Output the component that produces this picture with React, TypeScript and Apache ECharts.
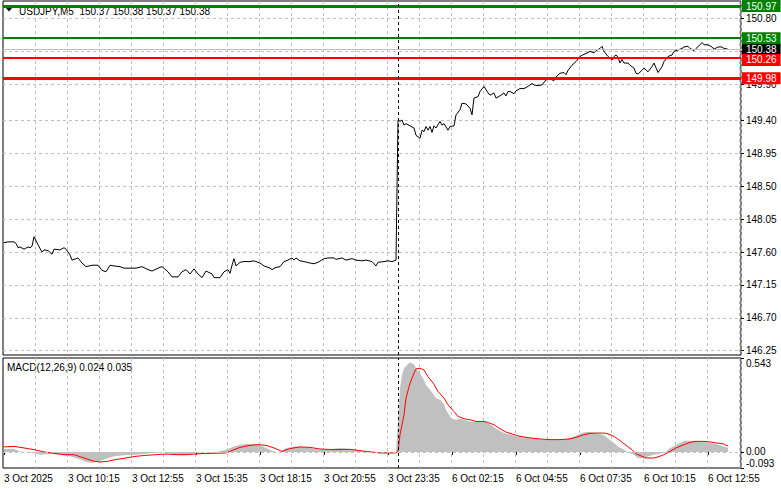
import React, { useEffect, useRef } from 'react';
import * as echarts from 'echarts';

const FONT = "'Liberation Sans', Arial, sans-serif";

// ---- data ----
const BAR_COUNT = 369; // bars visible across the chart width (M5)
const CATEGORIES = Array.from({ length: BAR_COUNT }, (_, i) => String(i));
const TICK_LABELS = [
  '3 Oct 2025', '3 Oct 10:15', '3 Oct 12:55', '3 Oct 15:35', '3 Oct 18:15', '3 Oct 20:55',
  '3 Oct 23:35', '6 Oct 02:15', '6 Oct 04:55', '6 Oct 07:35', '6 Oct 10:15', '6 Oct 12:55',
];
const TICK_STEP = 32;
const GRID_STEP = 16;
const SEPARATOR_BAR = '197'; // 6 Oct 00:00

const PRICE_GRID = [150.8, 150.35, 149.9, 149.4, 148.95, 148.5, 148.05, 147.6, 147.15, 146.7, 146.25];
const PRICE_LABELS = [150.8, 149.9, 149.4, 148.95, 148.5, 148.05, 147.6, 147.15, 146.7, 146.25];
const PRICE_MIN = 146.19;
const PRICE_MAX = 151.04;

const RESISTANCE_LEVELS = [150.97, 150.53];
const SUPPORT_LEVELS = [150.26, 149.98];
const BID = 150.38;

const TITLE = 'USDJPY,M5  150.37 150.38 150.37 150.38';
const MACD_TITLE = 'MACD(12,26,9) 0.024 0.035';
const MACD_MAX = 0.543;
const MACD_MIN = -0.093;

const PRICE: [number, number][] = [
  [0, 147.73], [2, 147.74], [5, 147.74], [6, 147.72], [7, 147.66], [8, 147.67], [10, 147.64], [12, 147.67],
  [13, 147.66], [14, 147.68], [15, 147.81], [17, 147.70], [19, 147.60], [20, 147.63], [22, 147.62], [24, 147.57],
  [25, 147.64], [28, 147.63], [30, 147.66], [31, 147.64], [33, 147.56], [34, 147.49], [37, 147.52], [39, 147.45],
  [41, 147.40], [44, 147.42], [47, 147.42], [49, 147.35], [51, 147.33], [53, 147.42], [55, 147.41], [58, 147.40],
  [60, 147.38], [63, 147.38], [66, 147.38], [69, 147.40], [72, 147.36], [74, 147.34], [77, 147.38], [79, 147.40],
  [82, 147.33], [84, 147.26], [87, 147.26], [89, 147.33], [91, 147.36], [93, 147.30], [95, 147.37], [97, 147.30],
  [99, 147.25], [101, 147.34], [104, 147.30], [105, 147.25], [108, 147.25], [110, 147.33], [112, 147.36], [113, 147.31],
  [114, 147.42], [115, 147.51], [116, 147.41], [118, 147.46], [120, 147.47], [123, 147.47], [125, 147.48], [128, 147.45],
  [130, 147.41], [133, 147.38], [134, 147.36], [136, 147.39], [138, 147.40], [140, 147.47], [142, 147.49], [144, 147.52],
  [145, 147.49], [146, 147.52], [148, 147.48], [150, 147.47], [153, 147.45], [155, 147.44], [157, 147.46], [160, 147.51],
  [162, 147.52], [165, 147.52], [166, 147.50], [169, 147.52], [171, 147.49], [174, 147.51], [176, 147.49], [179, 147.48],
  [181, 147.49], [184, 147.47], [186, 147.41], [187, 147.46], [190, 147.47], [192, 147.48], [194, 147.47], [196, 147.49],
  [197, 149.41], [198, 149.39], [199, 149.41], [200, 149.34], [201, 149.36], [203, 149.33], [205, 149.30], [206, 149.20],
  [208, 149.16], [209, 149.27], [210, 149.25], [211, 149.32], [212, 149.27], [213, 149.32], [214, 149.24], [215, 149.33],
  [216, 149.30], [218, 149.39], [219, 149.34], [220, 149.36], [222, 149.27], [223, 149.32], [225, 149.33], [226, 149.48],
  [228, 149.55], [229, 149.64], [231, 149.63], [233, 149.57], [234, 149.48], [235, 149.71], [237, 149.73], [238, 149.80],
  [240, 149.87], [242, 149.78], [243, 149.75], [245, 149.78], [246, 149.71], [248, 149.74], [250, 149.78], [251, 149.74],
  [252, 149.80], [253, 149.80], [255, 149.77], [256, 149.81], [258, 149.84], [260, 149.84], [262, 149.87], [264, 149.91],
  [265, 149.89], [267, 149.88], [269, 149.89], [271, 149.96], [273, 149.97], [275, 149.95], [276, 150.00], [278, 150.05],
  [280, 150.06], [281, 150.03], [282, 150.09], [284, 150.16], [286, 150.21], [288, 150.28], [290, 150.31], [291, 150.32],
  [293, 150.35], [295, 150.33], [296, 150.36], [298, 150.39], [299, 150.42], [300, 150.35], [302, 150.28], [304, 150.23],
  [305, 150.28], [306, 150.30], [307, 150.27], [308, 150.19], [309, 150.24], [310, 150.19], [312, 150.19], [313, 150.16],
  [315, 150.12], [316, 150.05], [317, 150.04], [319, 150.09], [320, 150.12], [322, 150.07], [324, 150.14], [325, 150.19],
  [327, 150.06], [329, 150.14], [330, 150.21], [332, 150.28], [334, 150.30], [335, 150.35], [337, 150.37], [339, 150.39],
  [340, 150.41], [342, 150.42], [343, 150.39], [345, 150.36], [346, 150.39], [348, 150.44], [349, 150.47], [350, 150.44],
  [352, 150.44], [354, 150.41], [355, 150.38], [357, 150.41], [359, 150.41], [360, 150.39], [362, 150.38],
];

const MACD_MAIN: [number, number][] = [
  [0, 0.017], [5, 0.017], [8, 0.002], [13, -0.002], [18, -0.016], [23, -0.012], [28, -0.016], [33, -0.025],
  [38, -0.044], [41, -0.058], [44, -0.063], [46, -0.058], [50, -0.044], [55, -0.025], [60, -0.02], [65, -0.016],
  [70, -0.012], [75, -0.006], [80, 0.0], [83, -0.008], [86, -0.016], [90, -0.02], [95, -0.008], [100, 0.0],
  [105, -0.004], [111, 0.013], [115, 0.031], [118, 0.042], [121, 0.046], [125, 0.046], [128, 0.038], [131, 0.023],
  [135, 0.002], [138, 0.0], [141, 0.023], [145, 0.031], [148, 0.032], [153, 0.023], [158, 0.013], [163, 0.017],
  [168, 0.023], [173, 0.017], [178, 0.006], [183, 0.0], [188, -0.008], [193, -0.006], [196, -0.004],
  [197, 0.18], [198, 0.368], [199, 0.445], [200, 0.484], [202, 0.507], [203, 0.518], [205, 0.507], [206, 0.484],
  [208, 0.455], [210, 0.416], [211, 0.387], [213, 0.359], [215, 0.33], [216, 0.311], [218, 0.301], [220, 0.276],
  [221, 0.244], [223, 0.205], [224, 0.192], [226, 0.186], [228, 0.192], [230, 0.186], [233, 0.176], [236, 0.173],
  [240, 0.176], [242, 0.167], [244, 0.153], [246, 0.134], [250, 0.109], [253, 0.1], [256, 0.09], [260, 0.084],
  [263, 0.081], [266, 0.077], [270, 0.071], [273, 0.071], [276, 0.071], [280, 0.071], [283, 0.081], [286, 0.094],
  [289, 0.109], [291, 0.115], [294, 0.115], [296, 0.109], [300, 0.096], [302, 0.077], [305, 0.052], [307, 0.032],
  [310, 0.013], [312, 0.0], [315, -0.016], [317, -0.035], [320, -0.039], [322, -0.025], [325, -0.016], [327, -0.012],
  [330, -0.006], [331, 0.003], [333, 0.023], [336, 0.038], [338, 0.052], [340, 0.065], [343, 0.065], [346, 0.065],
  [350, 0.058], [353, 0.052], [356, 0.046], [360, 0.032], [362, 0.024],
];

const MACD_SIGNAL: [number, number][] = [
  [0, 0.029], [5, 0.032], [10, 0.023], [15, 0.013], [20, 0.0], [25, -0.008], [30, -0.016], [35, -0.016],
  [40, -0.035], [45, -0.054], [48, -0.058], [52, -0.054], [56, -0.044], [61, -0.035], [66, -0.025], [71, -0.02],
  [76, -0.016], [81, -0.012], [86, -0.016], [91, -0.016], [98, -0.01], [105, -0.008], [111, -0.006], [115, 0.013],
  [118, 0.026], [123, 0.038], [127, 0.042], [131, 0.038], [135, 0.023], [139, 0.003], [143, 0.019], [148, 0.029],
  [153, 0.026], [158, 0.017], [165, 0.013], [173, 0.015], [181, 0.003], [188, -0.006], [196, -0.006],
  [197, 0.003], [198, 0.1], [200, 0.215], [201, 0.311], [203, 0.397], [205, 0.455], [206, 0.48], [208, 0.484],
  [210, 0.474], [212, 0.435], [215, 0.391], [217, 0.349], [220, 0.311], [222, 0.272], [225, 0.234], [227, 0.205],
  [230, 0.192], [233, 0.186], [236, 0.176], [240, 0.176], [242, 0.17], [245, 0.157], [248, 0.134], [251, 0.115],
  [255, 0.1], [258, 0.09], [263, 0.081], [268, 0.075], [273, 0.071], [278, 0.071], [283, 0.075], [286, 0.084],
  [290, 0.1], [293, 0.107], [296, 0.109], [300, 0.109], [302, 0.104], [305, 0.09], [308, 0.065], [311, 0.038],
  [314, 0.013], [316, -0.012], [319, -0.025], [321, -0.035], [325, -0.035], [327, -0.029], [330, -0.016], [333, 0.003],
  [336, 0.023], [340, 0.042], [343, 0.055], [346, 0.061], [350, 0.061], [353, 0.058], [356, 0.052], [360, 0.046],
  [361, 0.038], [362, 0.035],
];

// ---- styles ----
const GREEN = '#008000';
const RED = '#ff0000';
const GRID_GREY = '#c0c0c0';

function levelLine(value: number, color: string, width: number, bg: string, dy = 0) {
  return {
    yAxis: value,
    lineStyle: { color, width, type: 'solid' },
    label: {
      show: true,
      position: 'end',
      distance: 1,
      offset: [0, dy],
      formatter: value.toFixed(2),
      color: '#ffffff',
      backgroundColor: bg,
      padding: [1, 4, 0, 4],
      fontSize: 10,
      lineHeight: 11,
      fontFamily: FONT,
    },
  };
}

export default function App() {
  const ref = useRef<HTMLDivElement>(null);

  useEffect(() => {
    if (!ref.current) return;
    const chart = echarts.init(ref.current, undefined, { renderer: 'svg' });

    const isTick = (i: number) => i % TICK_STEP === 0;
    const isGrid = (i: number) => i > 0 && i % GRID_STEP === 0;

    const splitLine = { show: true, interval: isGrid, lineStyle: { color: GRID_GREY, type: [3, 3], width: 1 } };

    const axisLabelBase = { color: '#000', fontSize: 10, fontFamily: FONT };

    const option: any = {
      animation: false,
      backgroundColor: '#ffffff',
      textStyle: { fontFamily: FONT },
      grid: [
        { left: 3, top: 1, width: 738, height: 354, show: true, borderColor: '#000', borderWidth: 1, backgroundColor: 'transparent' },
        { left: 3, top: 358, width: 738, height: 110, show: true, borderColor: '#000', borderWidth: 1, backgroundColor: 'transparent' },
      ],
      xAxis: [
        {
          type: 'category', gridIndex: 0, data: CATEGORIES, boundaryGap: true,
          axisLine: { show: false }, axisTick: { show: false }, axisLabel: { show: false },
          splitLine,
        },
        {
          type: 'category', gridIndex: 1, data: CATEGORIES, boundaryGap: true,
          axisLine: { show: false },
          axisTick: { show: true, interval: isTick, length: 3, alignWithLabel: true, lineStyle: { color: '#000' } },
          axisLabel: {
            ...axisLabelBase,
            interval: isTick,
            align: 'left',
            margin: 5,
            formatter: (_v: string, i: number) => TICK_LABELS[i / TICK_STEP] ?? '',
          },
          splitLine,
        },
      ],
      yAxis: [
        {
          type: 'value', gridIndex: 0, position: 'right', min: PRICE_MIN, max: PRICE_MAX,
          splitLine: { show: false }, axisLine: { show: false },
          axisTick: { show: true, customValues: PRICE_GRID, length: 3, lineStyle: { color: '#000' } },
          axisLabel: { ...axisLabelBase, customValues: PRICE_LABELS, margin: 5, formatter: (v: number) => v.toFixed(2), showMinLabel: true, showMaxLabel: true },
        },
        {
          type: 'value', gridIndex: 1, position: 'right', min: MACD_MIN, max: MACD_MAX,
          splitLine: { show: false }, axisLine: { show: false },
          axisTick: { show: true, customValues: [0, MACD_MAX, MACD_MIN], length: 3, lineStyle: { color: '#000' } },
          axisLabel: { ...axisLabelBase, customValues: [0], margin: 5, formatter: (v: number) => v.toFixed(2) },
        },
        {
          type: 'value', gridIndex: 1, position: 'right', min: MACD_MIN, max: MACD_MAX,
          splitLine: { show: false }, axisLine: { show: false }, axisTick: { show: false },
          axisLabel: { ...axisLabelBase, customValues: [MACD_MAX], margin: 5, verticalAlign: 'top', showMaxLabel: true, formatter: (v: number) => v.toFixed(3) },
        },
        {
          type: 'value', gridIndex: 1, position: 'right', min: MACD_MIN, max: MACD_MAX,
          splitLine: { show: false }, axisLine: { show: false }, axisTick: { show: false },
          axisLabel: { ...axisLabelBase, customValues: [MACD_MIN], margin: 5, verticalAlign: 'bottom', showMinLabel: true, formatter: (v: number) => v.toFixed(3) },
        },
      ],
      graphic: [
        { type: 'polygon', shape: { points: [[6, 8], [12, 8], [9, 11.5]] }, style: { fill: '#000' } },
        { type: 'text', x: 19, y: 11, style: { text: TITLE, fontSize: 10, fontFamily: FONT, fill: '#000', verticalAlign: 'middle' } },
        { type: 'text', x: 7, y: 367, style: { text: MACD_TITLE, fontSize: 10, fontFamily: FONT, fill: '#000', verticalAlign: 'middle' } },
      ],
      series: [
        {
          name: 'grid', type: 'line', xAxisIndex: 0, yAxisIndex: 0, data: [], silent: true, z: 1,
          markLine: {
            silent: true, symbol: ['none', 'none'], z: 1, animation: false,
            label: { show: false },
            lineStyle: { color: GRID_GREY, type: [3, 3], width: 1 },
            data: PRICE_GRID.map((v) => ({ yAxis: v })),
          },
        },
        {
          name: 'USDJPY', type: 'line', xAxisIndex: 0, yAxisIndex: 0, data: PRICE,
          showSymbol: false, symbol: 'none', silent: true, z: 2,
          lineStyle: { color: '#000', width: 1 },
          markLine: {
            silent: true, symbol: ['none', 'none'], animation: false,
            emphasis: { disabled: true },
            data: [
              levelLine(BID, GRID_GREY, 1, '#000000'),
              levelLine(RESISTANCE_LEVELS[0], GREEN, 3, GREEN),
              levelLine(RESISTANCE_LEVELS[1], GREEN, 2, GREEN),
              levelLine(SUPPORT_LEVELS[0], RED, 2, RED, 2),
              levelLine(SUPPORT_LEVELS[1], RED, 3, RED),
              { xAxis: SEPARATOR_BAR, lineStyle: { color: '#000', type: [3, 3], width: 1 }, label: { show: false } },
            ],
          },
        },
        {
          name: 'MACD', type: 'line', xAxisIndex: 1, yAxisIndex: 1, data: MACD_MAIN,
          showSymbol: false, symbol: 'none', silent: true, z: 2,
          lineStyle: { width: 0, color: GRID_GREY },
          areaStyle: { color: GRID_GREY, opacity: 1, origin: 0 },
          markLine: {
            silent: true, symbol: ['none', 'none'], animation: false, label: { show: false },
            data: [
              { yAxis: 0, lineStyle: { color: GRID_GREY, type: [3, 3], width: 1 } },
              { xAxis: SEPARATOR_BAR, lineStyle: { color: '#000', type: [3, 3], width: 1 } },
            ],
          },
        },
        {
          name: 'Signal', type: 'line', xAxisIndex: 1, yAxisIndex: 1, data: MACD_SIGNAL,
          showSymbol: false, symbol: 'none', silent: true, z: 3,
          lineStyle: { color: RED, width: 1 },
        },
      ],
    };

    chart.setOption(option);
    return () => chart.dispose();
  }, []);

  return (
    <div
      ref={ref}
      style={{ position: 'absolute', left: 0, top: 0, width: 781, height: 489, background: '#fff' }}
    />
  );
}
